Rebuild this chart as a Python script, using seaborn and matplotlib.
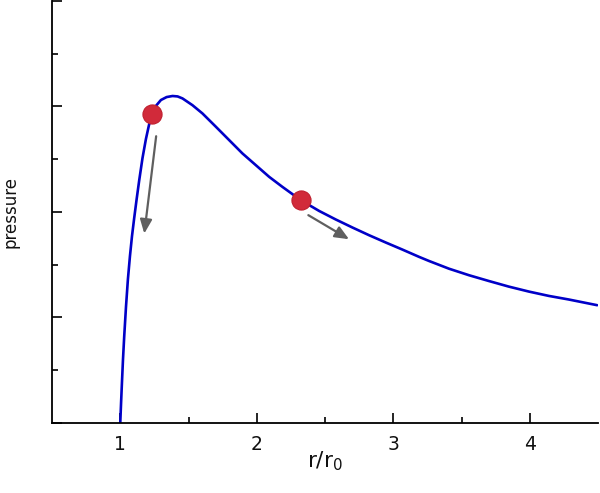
import matplotlib
matplotlib.use("Agg")
import matplotlib.pyplot as plt
from matplotlib.ticker import MultipleLocator, FixedLocator, NullFormatter
import seaborn as sns
import pandas as pd

# curve
r_vals = [1.000, 1.006, 1.012, 1.020, 1.029, 1.042, 1.056, 1.071, 1.086, 1.102, 1.120, 1.139,
          1.163, 1.188, 1.210, 1.232, 1.265, 1.298, 1.340, 1.383, 1.420, 1.456, 1.529, 1.602,
          1.701, 1.798, 1.895, 1.993, 2.091, 2.188, 2.323, 2.457, 2.579, 2.701, 2.823,
          2.945, 3.067, 3.189, 3.262, 3.408, 3.555, 3.701, 3.847, 3.994, 4.140, 4.286, 4.494]
p_vals = [0.000, 0.19, 0.37, 0.60, 0.82, 1.10, 1.36, 1.58, 1.77, 1.94, 2.12, 2.30,
          2.51, 2.69, 2.82, 2.925, 3.01, 3.06, 3.088, 3.098, 3.094, 3.075, 3.011, 2.933,
          2.806, 2.680, 2.554, 2.443, 2.332, 2.237, 2.111, 2.009, 1.928, 1.852, 1.779,
          1.710, 1.643, 1.574, 1.535, 1.462, 1.400, 1.345, 1.292, 1.245, 1.204, 1.170, 1.116]

# highlighted points
dot_r = [1.232, 2.323]
dot_p = [2.926, 2.111]

# arrows (start -> end)
arrow_start_r = [1.263, 2.378]
arrow_start_p = [2.717, 1.969]
arrow_end_r = [1.176, 2.676]
arrow_end_p = [1.795, 1.741]

x_ticks = [1, 2, 3, 4]
x_tick_labels = ["1", "2", "3", "4"]

sns.set_theme(style="white")
plt.rcParams['font.family'] = ['DejaVu Sans']

fig = plt.figure(figsize=(6.0, 4.93), dpi=100)
ax = fig.add_axes([52/600, 70/493, 546/600, 422.7/493 - 0.001])

df = pd.DataFrame({"r": r_vals, "p": p_vals})
sns.lineplot(data=df, x="r", y="p", sort=False, estimator=None, color="#0000C8",
             linewidth=1.9, ax=ax)

for xs, ys, xe, ye in zip(arrow_start_r, arrow_start_p, arrow_end_r, arrow_end_p):
    ax.annotate("", xy=(xe, ye), xytext=(xs, ys),
                arrowprops=dict(arrowstyle="-|>,head_length=0.7,head_width=0.3",
                                color="#5f5f5f", lw=1.6, shrinkA=0, shrinkB=0))

sns.scatterplot(x=dot_r, y=dot_p, s=190, color="#D12A3A", edgecolor="#C0202F",
                linewidth=0.8, zorder=5, ax=ax)

ax.set_xlim(0.5, 4.5)
ax.set_ylim(0, 4)
ax.xaxis.set_major_locator(FixedLocator(x_ticks))
ax.set_xticklabels(x_tick_labels)
ax.xaxis.set_minor_locator(FixedLocator([1.5, 2.5, 3.5]))
ax.yaxis.set_major_locator(MultipleLocator(1))
ax.yaxis.set_minor_locator(MultipleLocator(0.5))
ax.yaxis.set_major_formatter(NullFormatter())

ax.tick_params(which="both", direction="in", color="black", width=1.2)
ax.tick_params(which="major", length=7, labelsize=13.5, pad=9, labelcolor="#111111")
ax.tick_params(which="minor", length=4)
ax.tick_params(axis="x", which="both", bottom=True)
ax.tick_params(axis="y", which="both", left=True)

for s in ["top", "right"]:
    ax.spines[s].set_visible(False)
for s in ["left", "bottom"]:
    ax.spines[s].set_color("black")
    ax.spines[s].set_linewidth(1.3)

ax.set_xlabel("r/r$_0$", fontsize=15.5, color="#111111")
ax.xaxis.set_label_coords(0.5, -0.062)
ax.set_ylabel("pressure", fontsize=12, color="#111111")
ax.yaxis.set_label_coords(-0.060, 0.5)

fig.savefig("out.png", dpi=100)
